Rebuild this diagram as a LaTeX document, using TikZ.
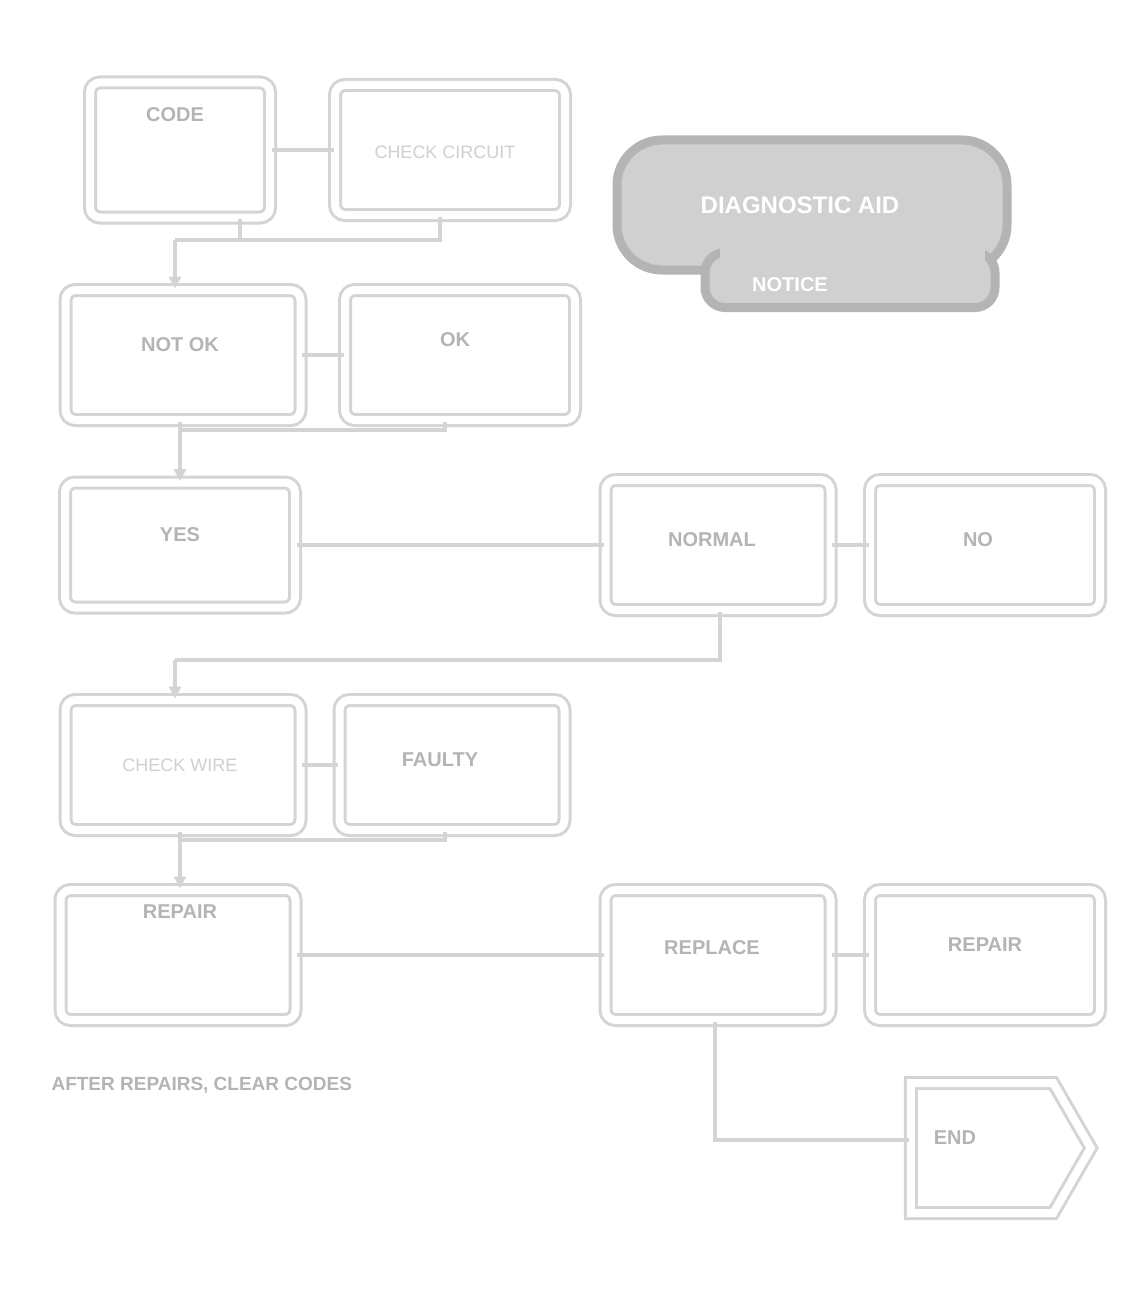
\documentclass[tikz,border=0pt]{standalone}
\usepackage{fontspec}
\setmainfont{Liberation Sans}
\usetikzlibrary{shapes.symbols,arrows.meta}
\definecolor{linegray}{HTML}{D4D4D4}
\definecolor{textgray}{HTML}{B4B4B4}
\definecolor{lighttext}{HTML}{D0D0D0}
\tikzset{
  chartbox/.style={draw=linegray, line width=3pt, double=white, double distance=8pt,
    rounded corners=10pt, minimum width=#1, inner sep=0pt},
  chartbox/.default=230pt,
  btext/.style={text=textgray, font=\bfseries\fontsize{20}{22}\selectfont},
  ltext/.style={text=lighttext, font=\fontsize{18}{20}\selectfont},
  conn/.style={draw=linegray, line width=4pt},
  arr/.style={conn, -{Triangle[length=12pt,width=12pt]}},
}
\begin{document}
\begin{tikzpicture}[x=1pt,y=-1pt]
\useasboundingbox[fill=white] (0,0) rectangle (1139,1300);

% row 1
\node[chartbox=180pt, minimum height=135pt] (A) at (180,150) {};
\node[btext] (At) at (175,115) {CODE};
\node[chartbox=230pt, minimum height=130pt] (B) at (450,150) {};
\node[ltext] (Bt) at (445,152) {CHECK CIRCUIT};

% banner
\node[draw=textgray, line width=9pt, fill=lighttext, rounded corners=45pt,
      minimum width=390pt, minimum height=130pt] (T) at (812,205) {};
\node[draw=textgray, line width=9pt, fill=lighttext, rounded corners=20pt,
      minimum width=290pt, minimum height=55pt] (T2) at (850,280) {};
\fill[lighttext] (720,245) rectangle (985,268);
\node[text=white, font=\bfseries\fontsize{24}{26}\selectfont] (Tt) at (800,205) {DIAGNOSTIC AID};
\node[text=white, font=\bfseries\fontsize{20}{22}\selectfont] (Tt2) at (790,285) {NOTICE};

% row 2
\node[chartbox=235pt, minimum height=130pt] (C) at (183,355) {};
\node[btext] (Ct) at (180,345) {NOT OK};
\node[chartbox=230pt, minimum height=130pt] (D) at (460,355) {};
\node[btext] (Dt) at (455,340) {OK};

% row 3
\node[chartbox=230pt, minimum height=125pt] (E) at (180,545) {};
\node[btext] (Et) at (180,535) {YES};
\node[chartbox=225pt, minimum height=130pt] (F) at (718,545) {};
\node[btext] (Ft) at (712,540) {NORMAL};
\node[chartbox=230pt, minimum height=130pt] (G) at (985,545) {};
\node[btext] (Gt) at (978,540) {NO};

% row 4
\node[chartbox=235pt, minimum height=130pt] (H) at (183,765) {};
\node[ltext] (Ht) at (180,765) {CHECK WIRE};
\node[chartbox=225pt, minimum height=130pt] (I) at (452,765) {};
\node[btext] (It) at (440,760) {FAULTY};

% row 5
\node[chartbox=235pt, minimum height=130pt] (J) at (178,955) {};
\node[btext] (Jt) at (180,912) {REPAIR};
\node[chartbox=225pt, minimum height=130pt] (K) at (718,955) {};
\node[btext] (Kt) at (712,948) {REPLACE};
\node[chartbox=230pt, minimum height=130pt] (L) at (985,955) {};
\node[btext] (Lt) at (985,945) {REPAIR};

% row 6
\node[signal, signal to=east, signal pointer angle=120, draw=linegray, line width=3pt,
      double=white, double distance=8pt, minimum width=180pt, minimum height=130pt,
      inner sep=0pt] (M) at (982,1148) {};
\node[btext] (Mt) at (955,1138) {END};

% footnote
\node[btext, anchor=west, font=\bfseries\fontsize{19}{21}\selectfont] (note) at (48,1085) {AFTER REPAIRS, CLEAR CODES};

% connectors
\coordinate (j1) at (175,240);
\coordinate (j1b) at (440,240);
\draw[conn] (A.east) -- (B.west);
\draw[conn] (A.south -| 240,0) -- (240,240);
\draw[conn] (B.south -| j1b) -- (j1b) -- (j1);
\draw[arr] (j1) -- (C.north -| j1);

\coordinate (j2) at (180,430);
\coordinate (j2b) at (445,430);
\draw[conn] (C.east) -- (D.west);
\draw[conn] (D.south -| j2b) -- (j2b) -- (j2);
\draw[arr] (C.south -| j2) -- (E.north -| j2);

\draw[conn] (E.east) -- (F.west);
\draw[conn] (F.east) -- (G.west);
\coordinate (j3) at (720,660);
\coordinate (j3b) at (175,660);
\draw[conn] (F.south -| j3) -- (j3) -- (j3b);
\draw[arr] (j3b) -- (H.north -| j3b);

\coordinate (j4) at (180,840);
\coordinate (j4b) at (445,840);
\draw[conn] (H.east) -- (I.west);
\draw[conn] (I.south -| j4b) -- (j4b) -- (j4);
\draw[arr] (H.south -| j4) -- (J.north -| j4);

\draw[conn] (J.east) -- (K.west);
\draw[conn] (K.east) -- (L.west);
\coordinate (j5) at (715,1140);
\draw[conn] (K.south -| j5) -- (j5) -- (M.west |- j5);
\end{tikzpicture}
\end{document}
